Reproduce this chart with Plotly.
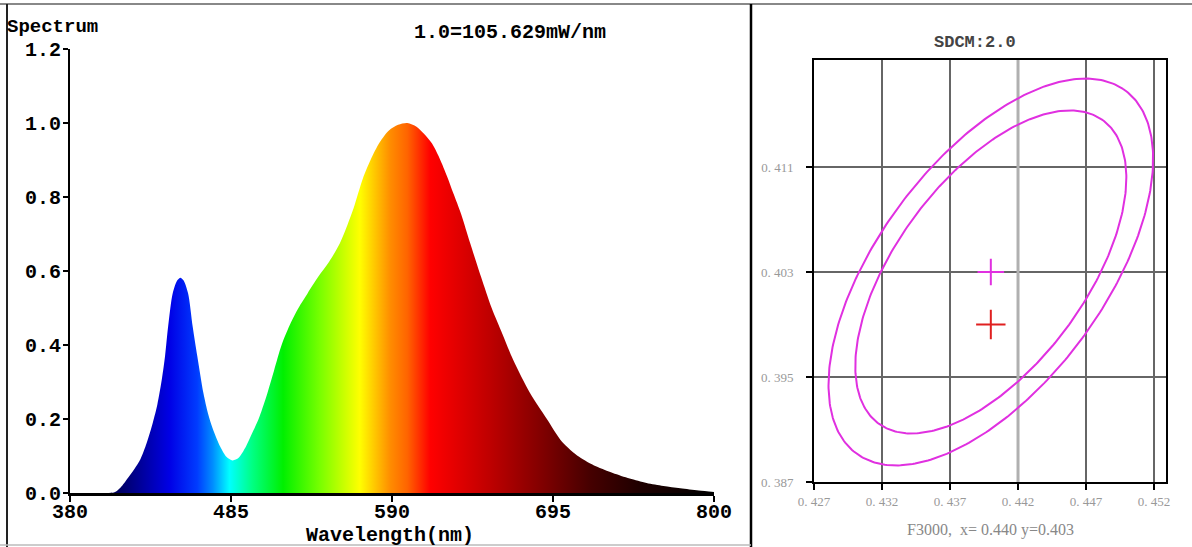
import numpy as np
import plotly.graph_objects as go

# ---------------- data: spectrum (relative, 1.0 = 105.629 mW/nm) ----------------
wavelength = [380, 400, 409, 413, 418, 422, 426, 430, 434, 437, 440, 442, 444, 447, 450,
              452, 454, 457, 460, 463, 467, 470, 473, 478, 482, 486, 490, 494, 498, 503,
              508, 513, 518, 524, 529, 535, 542, 549, 556, 561, 565, 571, 576, 582, 588,
              594, 600, 606, 611, 616, 621, 626, 630, 635, 641, 648, 655, 662, 669, 680,
              691, 701, 712, 723, 734, 745, 756, 767, 778, 790, 800]
intensity = [0.0, 0.0, 0.002, 0.015, 0.042, 0.065, 0.092, 0.135, 0.19, 0.24, 0.31, 0.37, 0.45, 0.54, 0.575,
             0.582, 0.575, 0.54, 0.45, 0.37, 0.27, 0.215, 0.175, 0.125, 0.098, 0.088, 0.095, 0.12, 0.155, 0.20,
             0.26, 0.33, 0.40, 0.46, 0.50, 0.54, 0.585, 0.625, 0.675, 0.725, 0.77, 0.85, 0.90, 0.948, 0.98,
             0.995, 1.0, 0.99, 0.97, 0.945, 0.905, 0.855, 0.81, 0.755, 0.675, 0.585, 0.50, 0.43, 0.36, 0.27,
             0.20, 0.138, 0.098, 0.072, 0.054, 0.039, 0.027, 0.019, 0.013, 0.007, 0.003]
wl_ticks = [380, 485, 590, 695, 800]
int_ticks = [0.0, 0.2, 0.4, 0.6, 0.8, 1.0, 1.2]

# spectral colour stops (wavelength nm, colour)
color_wl = [380, 410, 420, 445, 463, 473, 484, 499, 519, 543, 569, 589, 600, 615, 654, 687, 719, 752, 800]
color_rgb = ["rgb(0,0,40)", "rgb(0,0,90)", "rgb(0,0,130)", "rgb(0,0,230)", "rgb(0,60,255)",
             "rgb(0,140,255)", "rgb(0,255,255)", "rgb(0,255,130)", "rgb(0,240,0)", "rgb(120,255,0)",
             "rgb(255,255,0)", "rgb(255,140,0)", "rgb(255,100,0)", "rgb(255,0,0)", "rgb(190,0,0)",
             "rgb(130,0,0)", "rgb(70,0,0)", "rgb(30,0,0)", "rgb(0,0,0)"]

# ---------------- data: SDCM chromaticity panel ----------------
cie_x_ticks = [0.427, 0.432, 0.437, 0.442, 0.447, 0.452]
cie_y_ticks = [0.387, 0.395, 0.403, 0.411]
ellipse_center = (0.440, 0.403)
ellipse_semi_major = 0.0170
ellipse_semi_minor = 0.0084
ellipse_tilt_deg = 55.0
ellipse_scales = [1.0, 0.835]
target_point = (0.440, 0.403)
measured_point = (0.440, 0.399)

W, H = 1192, 547


def px_x(p):
    return p / W


def px_y(p):
    return 1 - p / H


fig = go.Figure()

lo, hi = wavelength[0], wavelength[-1]
colorscale = [[(w - lo) / (hi - lo), c] for w, c in zip(color_wl, color_rgb)]

fig.add_trace(go.Scatter(
    x=wavelength, y=intensity, mode="lines",
    line=dict(width=0, shape="spline", smoothing=0.8, color="rgba(0,0,0,0)"),
    fill="tozeroy",
    fillgradient=dict(type="horizontal", colorscale=colorscale, start=lo, stop=hi),
    xaxis="x", yaxis="y", hoverinfo="skip", showlegend=False,
))

# ellipses
th = np.deg2rad(ellipse_tilt_deg)
t = np.linspace(0, 2 * np.pi, 361)
for s in ellipse_scales:
    ex = ellipse_center[0] + s * (ellipse_semi_major * np.cos(t) * np.cos(th) - ellipse_semi_minor * np.sin(t) * np.sin(th))
    ey = ellipse_center[1] + s * (ellipse_semi_major * np.cos(t) * np.sin(th) + ellipse_semi_minor * np.sin(t) * np.cos(th))
    fig.add_trace(go.Scatter(x=ex, y=ey, mode="lines", line=dict(color="#e030e0", width=2),
                             xaxis="x2", yaxis="y2", hoverinfo="skip", showlegend=False))

fig.add_trace(go.Scatter(x=[target_point[0]], y=[target_point[1]], mode="markers",
                         marker=dict(symbol="cross-thin", size=19, line=dict(color="#e030e0", width=2)),
                         xaxis="x2", yaxis="y2", showlegend=False))
fig.add_trace(go.Scatter(x=[measured_point[0]], y=[measured_point[1]], mode="markers",
                         marker=dict(symbol="cross-thin", size=21, line=dict(color="#e02020", width=2)),
                         xaxis="x2", yaxis="y2", showlegend=False))

mono_bold = dict(family="Liberation Mono", size=20, color="black", weight="bold")
serif_grey = dict(family="Liberation Serif", size=13, color="#999999")

fig.update_layout(
    template="none",
    width=W, height=H, autosize=False,
    margin=dict(l=0, r=0, t=0, b=0, pad=0, autoexpand=False),
    paper_bgcolor="white", plot_bgcolor="white",
    showlegend=False,
    xaxis=dict(domain=[px_x(70), px_x(714)], range=[380, 800], tickvals=wl_ticks,
               ticktext=[str(v) for v in wl_ticks], automargin=False,
               showline=True, linecolor="black", linewidth=3, ticks="outside", ticklen=6,
               tickwidth=2, tickcolor="black", tickfont=mono_bold, showgrid=False, zeroline=False,
               ticklabelstandoff=-8,
               anchor="y", fixedrange=True),
    yaxis=dict(domain=[px_y(493), px_y(49)], range=[0, 1.2], tickvals=int_ticks,
               ticktext=[f"{v:.1f}" for v in int_ticks], automargin=False,
               showline=True, linecolor="black", linewidth=2, ticks="outside", ticklen=5,
               tickwidth=2, tickcolor="black", tickfont=mono_bold, showgrid=False, zeroline=False,
               ticklabelstandoff=-2,
               anchor="x", fixedrange=True),
    xaxis2=dict(domain=[px_x(814), px_x(1166)], range=[0.427, 0.45288], tickvals=cie_x_ticks,
                ticktext=["0. " + f"{v:.3f}"[2:] for v in cie_x_ticks], automargin=False,
                showline=True, mirror=True, linecolor="black", linewidth=2,
                showgrid=True, gridcolor="#666666", gridwidth=1.5,
                ticks="outside", ticklen=6, tickwidth=2, tickcolor="black",
                tickfont=serif_grey, zeroline=False, anchor="y2", fixedrange=True),
    yaxis2=dict(domain=[px_y(482), px_y(60)], range=[0.387, 0.41915], tickvals=cie_y_ticks,
                ticktext=["0. " + f"{v:.3f}"[2:] for v in cie_y_ticks], automargin=False,
                showline=True, mirror=True, linecolor="black", linewidth=2,
                showgrid=True, gridcolor="#666666", gridwidth=1.5,
                ticks="outside", ticklen=6, tickwidth=2, tickcolor="black",
                ticklabelstandoff=10,
                tickfont=serif_grey, zeroline=False, anchor="x2", fixedrange=True),
)

# lighter central grid line
fig.add_shape(type="line", xref="x2", yref="y2", x0=cie_x_ticks[3], x1=cie_x_ticks[3],
              y0=0.387, y1=0.41915, line=dict(color="#b0b0b0", width=3), layer="between")

# outer frame lines
fig.add_shape(type="line", xref="paper", yref="paper", x0=0, x1=1, y0=px_y(4), y1=px_y(4),
              line=dict(color="#888888", width=2))
fig.add_shape(type="line", xref="paper", yref="paper", x0=px_x(7), x1=px_x(7), y0=0, y1=px_y(4),
              line=dict(color="#222222", width=2))
fig.add_shape(type="line", xref="paper", yref="paper", x0=px_x(751), x1=px_x(751), y0=0, y1=px_y(4),
              line=dict(color="black", width=2.5))
fig.add_shape(type="line", xref="paper", yref="paper", x0=0, x1=px_x(751), y0=px_y(545), y1=px_y(545),
              line=dict(color="#bbbbbb", width=1.5))

# texts
fig.add_annotation(text="Spectrum", x=px_x(5), y=px_y(27), xref="paper", yref="paper",
                   xanchor="left", yanchor="middle", showarrow=False,
                   font=dict(family="Liberation Mono", size=19, color="black", weight="bold"))
fig.add_annotation(text="1.0=105.629mW/nm", x=px_x(412), y=px_y(32), xref="paper", yref="paper",
                   xanchor="left", yanchor="middle", showarrow=False, font=mono_bold)
fig.add_annotation(text="Wavelength(nm)", x=px_x(390), y=px_y(535), xref="paper", yref="paper",
                   xanchor="center", yanchor="middle", showarrow=False, font=mono_bold)
fig.add_annotation(text="SDCM:2.0", x=px_x(975), y=px_y(42), xref="paper", yref="paper",
                   xanchor="center", yanchor="middle", showarrow=False,
                   font=dict(family="Liberation Mono", size=17, color="#444444", weight="bold"))
fig.add_annotation(text="F3000,  x= 0.440 y=0.403", x=px_x(990), y=px_y(530), xref="paper", yref="paper",
                   xanchor="center", yanchor="middle", showarrow=False,
                   font=dict(family="Liberation Serif", size=16, color="#888888"))

fig.write_html("out.html", config={"displayModeBar": False},
               post_script="document.body.style.margin='0px';")
